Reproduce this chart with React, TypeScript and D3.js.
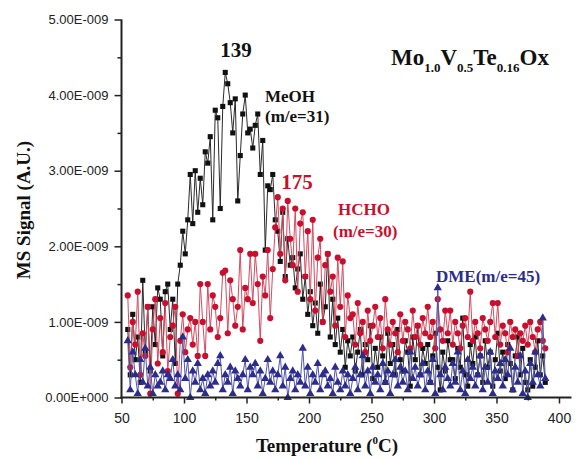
import React, { useRef, useEffect } from "react";
import * as d3 from "d3";

// temperature grid (deg C) shared by the three mass traces
const temperature = [
  55, 57, 59, 61, 63, 65, 67, 69, 71, 73,
  75, 77, 79, 81, 83, 85, 87, 89, 91, 93,
  95, 97, 99, 101, 103, 105, 107, 109, 111, 113,
  115, 117, 119, 121, 123, 125, 127, 129, 131, 133,
  135, 137, 139, 141, 143, 145, 147, 149, 151, 153,
  155, 157, 159, 161, 163, 165, 167, 169, 171, 173,
  175, 177, 179, 181, 183, 185, 187, 189, 191, 193,
  195, 197, 199, 201, 203, 205, 207, 209, 211, 213,
  215, 217, 219, 221, 223, 225, 227, 229, 231, 233,
  235, 237, 239, 241, 243, 245, 247, 249, 251, 253,
  255, 257, 259, 261, 263, 265, 267, 269, 271, 273,
  275, 277, 279, 281, 283, 285, 287, 289, 291, 293,
  295, 297, 299, 301, 303, 305, 307, 309, 311, 313,
  315, 317, 319, 321, 323, 325, 327, 329, 331, 333,
  335, 337, 339, 341, 343, 345, 347, 349, 351, 353,
  355, 357, 359, 361, 363, 365, 367, 369, 371, 373,
  375, 377, 379, 381, 383, 385, 387, 389,
];

// MS signal in units of 1E-009
const meoh = [
  0.9, 0.3, 1.1, 0.5, 0.8, 0.2, 1.55, 0.6, 1.2, 0.35,
  1.2, 0.7, 1.45, 1.3, 0.55, 1.4, 1.5, 0.9, 1.3, 0.45,
  1.5, 1.75, 2.2, 1.9, 2.35, 2.95, 2.3, 3.0, 2.45, 2.9,
  2.55, 3.25, 3.1, 3.45, 2.35, 3.8, 3.7, 2.5, 3.85, 4.3,
  4.15, 3.9, 3.5, 3.95, 2.6, 3.2, 3.75, 4.0, 3.5, 3.55,
  3.3, 3.6, 3.75, 2.95, 3.4, 1.95, 2.8, 2.75, 2.95, 2.35,
  2.2, 1.8, 2.45, 1.6, 2.1, 1.75, 1.85, 1.45, 1.7, 1.9,
  1.3, 1.6, 1.1, 1.4, 0.95, 1.25, 0.85, 1.5, 1.0, 1.2,
  1.9, 0.8, 1.3, 0.7, 1.05, 0.6, 0.9, 0.4, 0.75, 0.55,
  0.8, 0.35, 0.6, 0.9, 0.3, 0.7, 0.5, 0.95, 0.25, 0.65,
  0.4, 0.8, 0.55, 0.2, 0.85, 0.45, 0.7, 0.3, 0.9, 0.5,
  0.35, 0.75, 0.6, 0.15, 0.8, 0.5, 0.95, 0.3, 0.65, 0.45,
  0.7, 0.2, 0.55, 0.85, 0.4, 0.1, 0.6, 0.35, 0.75, 0.5,
  0.5, 0.25, 0.65, 0.4, 1.05, 0.3, 0.15, 0.7, 0.45, 0.8,
  0.3, 0.55, 0.2, 0.75, 0.4, 0.6, 0.15, 0.5, 0.85, 0.35,
  0.6, 0.25, 0.7, 0.45, 0.1, 0.55, 0.8, 0.3, 0.65, 0.2,
  0.1, 0.5, 0.15, 0.4, 0.75, 0.3, 0.55, 0.2,
];

const hcho = [
  1.35, 0.4, 1.0, 0.7, 1.4, 0.3, 0.85, 0.55, 1.2, 0.05,
  0.9, 1.3, 0.45, 1.05, 0.6, 1.25, 0.35, 0.8, 0.95, 1.2,
  0.05, 0.75, 1.1, 0.6, 0.9, 1.05, 0.7, 1.0, 0.55, 1.5,
  1.0, 0.55, 1.5, 0.9, 1.35, 1.2, 0.8, 1.05, 1.65, 1.68,
  0.85, 1.55, 1.3, 0.95, 1.2, 1.95, 0.9, 1.45, 1.3, 1.9,
  1.25, 1.9, 1.5, 0.75, 1.6, 1.35, 1.95, 1.05, 1.7, 2.25,
  2.65, 1.9, 2.5, 1.55, 2.6, 2.1, 1.75, 2.5, 1.4, 2.3,
  2.45, 1.6, 2.2, 1.3, 2.35, 1.15, 1.85, 2.1, 1.0, 1.75,
  1.9, 1.4, 1.6, 0.95, 1.85, 1.2, 1.8, 0.8, 1.35, 1.05,
  1.1, 0.7, 1.25, 0.85, 1.0, 0.6, 1.15, 0.75, 0.95, 1.2,
  0.8, 1.05, 0.65, 1.3, 0.9, 0.7, 1.0, 0.85, 0.6, 1.1,
  0.75, 1.0, 0.9, 0.65, 1.15, 0.8, 0.95, 0.7, 1.05, 0.85,
  1.2, 0.8, 1.0, 0.65, 1.3, 0.9, 0.75, 1.15, 0.85, 1.15,
  0.7, 1.0, 0.85, 0.65, 0.95, 1.05, 0.8, 1.4, 0.75, 1.0,
  0.85, 0.65, 1.05, 0.9, 0.75, 1.0, 1.25, 0.8, 1.25, 0.7,
  0.95, 0.85, 0.6, 1.0, 0.8, 0.9, 0.55, 0.85, 0.75, 0.95,
  0.7, 1.0, 0.8, 0.6, 0.9, 1.0, 0.75, 0.65,
];

const dme = [
  0.75, 0.1, 0.6, 0.3, 0.05, 0.5, 0.2, 0.65, 0.15, 0.4,
  0.05, 0.3, 0.15, 0.2, 0.35, 0.1, 0.3, 0.25, 0.5, 0.15,
  0.3, 0.1, 0.8, 0.25, 0.5, 0.0, 0.35, 0.2, 0.45, 0.1,
  0.25, 0.05, 0.3, 0.15, 0.35, 0.2, 0.45, 0.55, 0.1, 0.3,
  0.2, 0.4, 0.05, 0.35, 0.25, 0.15, 0.3, 0.5, 0.1, 0.4,
  0.3, 0.45, 0.15, 0.35, 0.05, 0.25, 0.5, 0.2, 0.35, 0.1,
  0.3, 0.55, 0.15, 0.4, 0.0, 0.25, 0.35, 0.1, 0.3, 0.2,
  0.65, 0.15, 0.4, 0.05, 0.3, 0.2, 0.45, 0.1, 0.3, 0.35,
  0.15, 0.25, 0.05, 0.4, 0.2, 0.1, 0.35, 0.15, 0.3, 0.05,
  0.25, 0.4, 0.1, 0.3, 0.55, 0.15, 0.35, 0.05, 0.4, 0.2,
  0.3, 0.1, 0.45, 0.2, 0.35, 0.05, 0.3, 0.5, 0.15, 0.4,
  0.2, 0.35, 0.1, 0.6, 0.25, 0.4, 0.15, 0.3, 0.45, 0.1,
  0.35, 0.2, 0.5, 0.05, 1.45, 0.3, 0.1, 0.4, 0.25, 0.15,
  0.45, 0.2, 0.6, 0.1, 0.35, 0.05, 0.5, 0.25, 0.4, 0.15,
  0.3, 0.55, 0.1, 0.4, 0.2, 0.6, 0.05, 0.35, 0.25, 0.45,
  0.15, 0.5, 0.3, 0.65, 0.1, 0.4, 0.2, 0.55, 0.05, 0.35,
  0.0, 0.45, 0.2, 0.6, 0.3, 0.15, 1.05, 0.25,
];

const xTicks = [50, 100, 150, 200, 250, 300, 350, 400];
const xMinorTicks = [75, 125, 175, 225, 275, 325, 375];
const yTicks = [0, 1, 2, 3, 4, 5];
const yTickLabels = ["0.00E+000", "1.00E-009", "2.00E-009", "3.00E-009", "4.00E-009", "5.00E-009"];
const yMinorTicks = [0.5, 1.5, 2.5, 3.5, 4.5];

const BLACK = "#111111";
const RED = "#c8102e";
const BLUE = "#2b2c8c";
const serif = "'Liberation Serif', 'DejaVu Serif', serif";
const sans = "'Liberation Sans', Arial, sans-serif";

const App = () => {
  const plotRef = useRef(null);
  const width = 587;
  const height = 459;

  useEffect(() => {
    const svg = d3.select(plotRef.current);
    svg.selectAll("*").remove();

    const x = d3.scaleLinear().domain([50, 410]).range([121.5, 571.5]);
    const y = d3.scaleLinear().domain([0, 5]).range([397.5, 19.5]);

    const series = [
      { name: "meoh", values: meoh, color: BLACK, line: "#2a2a2a", marker: "square" },
      { name: "hcho", values: hcho, color: RED, line: "#d44a5e", marker: "circle" },
      { name: "dme", values: dme, color: BLUE, line: "#5456a8", marker: "triangle" },
    ];

    const line = d3
      .line()
      .x((d) => x(d[0]))
      .y((d) => y(d[1]));

    series.forEach((s) => {
      const pts = temperature.map((t, i) => [t, s.values[i]]);
      const g = svg.append("g").attr("class", s.name);
      g.append("path")
        .datum(pts)
        .attr("d", line)
        .attr("fill", "none")
        .attr("stroke", s.line)
        .attr("stroke-width", 1);

      if (s.marker === "circle") {
        g.selectAll("circle")
          .data(pts)
          .enter()
          .append("circle")
          .attr("cx", (d) => x(d[0]))
          .attr("cy", (d) => y(d[1]))
          .attr("r", 3.1)
          .attr("fill", s.color);
      } else {
        const sym = d3
          .symbol()
          .type(s.marker === "square" ? d3.symbolSquare : d3.symbolTriangle)
          .size(s.marker === "square" ? 26 : 30);
        g.selectAll("path.pt")
          .data(pts)
          .enter()
          .append("path")
          .attr("class", "pt")
          .attr("d", sym)
          .attr("transform", (d) => `translate(${x(d[0])},${y(d[1])})`)
          .attr("fill", s.color);
      }
    });

    // x axis
    const xAxis = svg.append("g").attr("transform", "translate(0,397.5)");
    xAxis.call(d3.axisBottom(x).tickValues(xTicks).tickSize(6).tickSizeOuter(0).tickFormat(d3.format("d")));
    xAxis.append("g").call(d3.axisBottom(x).tickValues(xMinorTicks).tickSize(3).tickFormat(() => ""));
    xAxis.selectAll(".domain").remove();
    xAxis.selectAll("line").attr("stroke", "#222").attr("stroke-width", 1.5);
    xAxis
      .selectAll("text")
      .attr("y", 16)
      .attr("dy", "0.71em")
      .attr("font-family", sans)
      .attr("font-size", 14)
      .attr("fill", "#222");
    svg
      .append("line")
      .attr("x1", 120.5)
      .attr("x2", 571.5)
      .attr("y1", 397.5)
      .attr("y2", 397.5)
      .attr("stroke", "#222")
      .attr("stroke-width", 2);

    // y axis
    const yAxis = svg.append("g").attr("transform", "translate(121.5,0)");
    yAxis.call(
      d3
        .axisLeft(y)
        .tickValues(yTicks)
        .tickSize(7)
        .tickSizeOuter(0)
        .tickFormat((d, i) => yTickLabels[i])
    );
    yAxis.append("g").call(d3.axisLeft(y).tickValues(yMinorTicks).tickSize(4).tickFormat(() => ""));
    yAxis.selectAll(".domain").remove();
    yAxis.selectAll("line").attr("stroke", "#222").attr("stroke-width", 1.5);
    yAxis
      .selectAll("text")
      .attr("x", -13)
      .attr("font-family", sans)
      .attr("font-size", 13)
      .attr("fill", "#222");
    svg
      .append("line")
      .attr("x1", 121.5)
      .attr("x2", 121.5)
      .attr("y1", 19.5)
      .attr("y2", 398.5)
      .attr("stroke", "#222")
      .attr("stroke-width", 2);
  }, []);

  return (
    <svg width={width} height={height} style={{ position: "absolute", left: 0, top: 0, background: "#fff" }}>
      <g ref={plotRef} />
      <text x={236} y={57} textAnchor="middle" fontFamily={serif} fontWeight="bold" fontSize={21} fill={BLACK}>
        139
      </text>
      <text x={265} y={102} fontFamily={serif} fontWeight="bold" fontSize={17} fill={BLACK}>
        MeOH
      </text>
      <text x={265} y={122} fontFamily={serif} fontWeight="bold" fontSize={17} fill={BLACK}>
        (m/e=31)
      </text>
      <text x={297} y={189} textAnchor="middle" fontFamily={serif} fontWeight="bold" fontSize={21} fill={RED}>
        175
      </text>
      <text x={338} y={215} fontFamily={serif} fontWeight="bold" fontSize={17} fill={RED}>
        HCHO
      </text>
      <text x={333} y={237} fontFamily={serif} fontWeight="bold" fontSize={17} fill={RED}>
        (m/e=30)
      </text>
      <text x={436} y={282} fontFamily={serif} fontWeight="bold" fontSize={17} fill={BLUE}>
        DME(m/e=45)
      </text>
      <text x={391} y={65} fontFamily={serif} fontWeight="bold" fontSize={23} fill={BLACK}>
        Mo
        <tspan fontSize={13} dy={7}>1.0</tspan>
        <tspan dy={-7}>V</tspan>
        <tspan fontSize={13} dy={7}>0.5</tspan>
        <tspan dy={-7}>Te</tspan>
        <tspan fontSize={13} dy={7}>0.16</tspan>
        <tspan dy={-7}>Ox</tspan>
      </text>
      <text x={327} y={452} textAnchor="middle" fontFamily={serif} fontWeight="bold" fontSize={19} fill={BLACK}>
        Temperature (
        <tspan fontSize={11} dy={-8}>0</tspan>
        <tspan dy={8}>C)</tspan>
      </text>
      <text
        transform="translate(30,210) rotate(-90)"
        textAnchor="middle"
        fontFamily={serif}
        fontWeight="bold"
        fontSize={19}
        fill={BLACK}
      >
        MS Signal (A.U.)
      </text>
    </svg>
  );
};

export default App;
